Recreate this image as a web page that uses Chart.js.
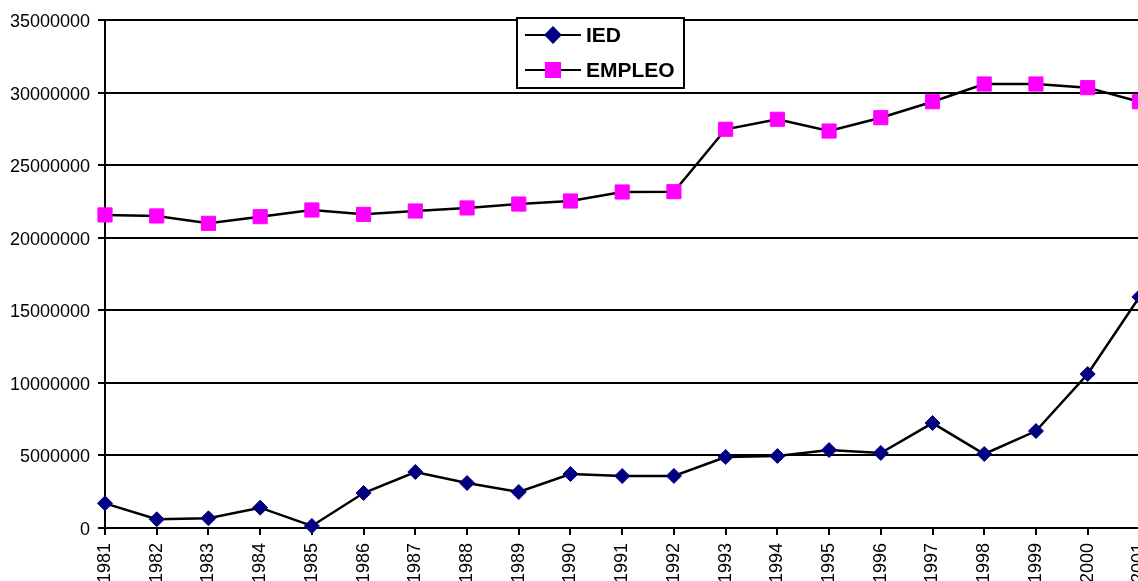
<!DOCTYPE html>
<html>
<head>
<meta charset="utf-8">
<script src="https://cdn.jsdelivr.net/npm/chart.js@4/dist/chart.umd.min.js"></script>
<style>
  html, body { margin: 0; padding: 0; background: #fff; overflow: hidden; }
  #wrap { width: 1138px; height: 581px; overflow: hidden; }
  canvas { display: block; }
</style>
</head>
<body>
<div id="wrap"><canvas id="c" width="1169" height="581"></canvas></div>
<script>
const years = ['1981','1982','1983','1984','1985','1986','1987','1988','1989','1990',
               '1991','1992','1993','1994','1995','1996','1997','1998','1999','2000','2001'];
const ied = [1700000, 600000, 670000, 1400000, 140000, 2410000, 3860000, 3100000, 2480000, 3720000,
             3580000, 3590000, 4890000, 4960000, 5370000, 5170000, 7230000, 5100000, 6680000, 10610000, 15920000];
const empleo = [21570000, 21500000, 20990000, 21450000, 21910000, 21610000, 21840000, 22050000, 22320000, 22530000,
                23150000, 23170000, 27470000, 28160000, 27350000, 28270000, 29370000, 30590000, 30590000, 30340000, 29370000];
const yMin = 0, yMax = 35000000, yStep = 5000000;

const FONT = '"Liberation Sans", Arial, sans-serif';

// Boxed legend drawn over the plot, line + marker + bold label per series
const boxedLegend = {
  id: 'boxedLegend',
  afterDraw(chart) {
    const ctx = chart.ctx;
    const x0 = 517, y0 = 18, w = 167, h = 70;
    ctx.save();
    ctx.fillStyle = '#ffffff';
    ctx.fillRect(x0, y0, w, h);
    ctx.strokeStyle = '#000000';
    ctx.lineWidth = 2;
    ctx.strokeRect(x0, y0, w, h);
    chart.data.datasets.forEach((ds, i) => {
      const cy = y0 + 17 + i * 35;
      ctx.beginPath();
      ctx.strokeStyle = ds.borderColor;
      ctx.lineWidth = 2;
      ctx.moveTo(x0 + 8, cy);
      ctx.lineTo(x0 + 64, cy);
      ctx.stroke();
      ctx.fillStyle = ds.pointBackgroundColor;
      ctx.strokeStyle = ds.pointBorderColor;
      Chart.helpers.drawPoint(ctx, {
        pointStyle: ds.pointStyle,
        radius: ds.pointRadius,
        borderWidth: ds.pointBorderWidth,
        rotation: 0
      }, x0 + 36, cy);
      ctx.fillStyle = '#000000';
      ctx.font = 'bold 21px ' + FONT;
      ctx.textBaseline = 'middle';
      ctx.textAlign = 'left';
      ctx.fillText(ds.label, x0 + 69, cy + 1);
    });
    ctx.restore();
  }
};

new Chart(document.getElementById('c'), {
  type: 'line',
  data: {
    labels: years,
    datasets: [
      {
        label: 'IED',
        data: ied,
        borderColor: '#000000',
        borderWidth: 2.5,
        pointStyle: 'rectRot',
        pointRadius: 7.5,
        pointBorderWidth: 1,
        pointBackgroundColor: '#000080',
        pointBorderColor: '#000080',
        tension: 0,
        clip: false
      },
      {
        label: 'EMPLEO',
        data: empleo,
        borderColor: '#000000',
        borderWidth: 2.5,
        pointStyle: 'rect',
        pointRadius: 10,
        pointBorderWidth: 1,
        pointBackgroundColor: '#ff00ff',
        pointBorderColor: '#ff00ff',
        tension: 0,
        clip: false
      }
    ]
  },
  options: {
    responsive: false,
    animation: false,
    devicePixelRatio: 1,
    layout: { padding: { top: 20, right: 21, bottom: 0, left: 0 } },
    plugins: {
      legend: { display: false },
      tooltip: { enabled: false }
    },
    scales: {
      x: {
        offset: false,
        grid: {
          drawOnChartArea: false,
          drawTicks: true,
          tickLength: 7,
          color: '#000000',
          lineWidth: 2
        },
        border: { display: true, color: '#000000', width: 2 },
        ticks: {
          color: '#000000',
          font: { family: FONT, size: 18 },
          minRotation: 90,
          maxRotation: 90,
          padding: 8,
          autoSkip: false
        },
        afterFit(scale) { scale.height = 53; }
      },
      y: {
        min: yMin,
        max: yMax,
        grid: {
          color: '#000000',
          lineWidth: 2,
          tickLength: 7
        },
        border: { display: true, color: '#000000', width: 2 },
        ticks: {
          stepSize: yStep,
          color: '#000000',
          font: { family: FONT, size: 18 },
          padding: 8,
          labelOffset: 2,
          callback: v => String(v)
        },
        afterFit(scale) { scale.width = 105; }
      }
    }
  },
  plugins: [boxedLegend]
});
</script>
</body>
</html>
